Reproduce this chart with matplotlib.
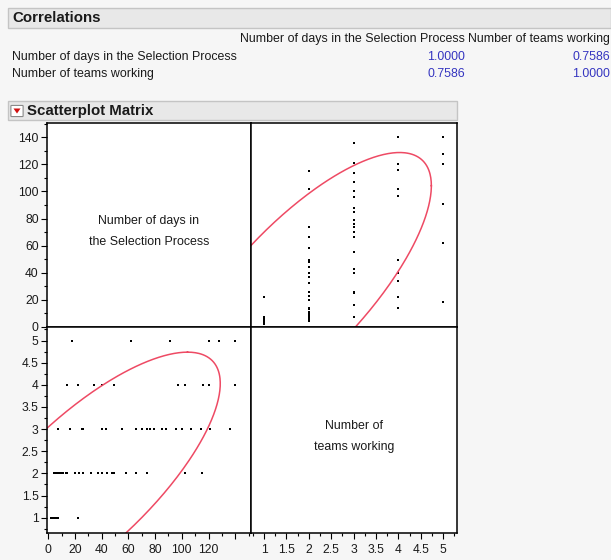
import numpy as np
import matplotlib
matplotlib.use("Agg")
import matplotlib.pyplot as plt
from matplotlib.patches import Rectangle, FancyBboxPatch, Polygon
from matplotlib.ticker import MultipleLocator

plt.rcParams['font.family'] = ['Liberation Sans', 'DejaVu Sans']

# data (teams, days)
teams1_days = [2, 3, 4, 5, 6, 7, 22]
teams2_days = [4, 5, 6, 7, 8, 9, 10, 11, 13, 14, 20, 23, 26, 32, 37, 40, 44, 48, 49, 58, 66, 74, 102, 115]
teams3_days = [7, 16, 25, 26, 40, 43, 55, 66, 70, 74, 76, 79, 85, 88, 96, 100, 107, 114, 121, 136]
teams4_days = [14, 22, 34, 40, 49, 97, 102, 116, 120, 140]
teams5_days = [18, 62, 91, 120, 128, 140]

var_names = ["Number of days in the Selection Process", "Number of teams working"]
corr_matrix = [[1.0, 0.7586], [0.7586, 1.0]]

# density ellipse summary (teams, days)
ell_mean = [1.80, 27.2]
ell_sd = [1.20, 41.5]
ell_level = 0.95

days = np.array(teams1_days + teams2_days + teams3_days + teams4_days + teams5_days, dtype=float)
teams = np.array([1] * len(teams1_days) + [2] * len(teams2_days) + [3] * len(teams3_days)
                 + [4] * len(teams4_days) + [5] * len(teams5_days), dtype=float)

W, H = 611, 560
fig = plt.figure(figsize=(W / 100, H / 100), dpi=100, facecolor='#f6f6f6')


def fx(x):
    return x / W


def fy(y):
    return 1 - y / H


def box(x0, y0, x1, y1):
    return [fx(x0), fy(y1), (x1 - x0) / W, (y1 - y0) / H]


txt = '#1a1a1a'
blue = '#3535c0'
fs = 8.9

# Correlations header
fig.patches.append(Rectangle((fx(8), fy(28)), (611 - 8) / W, 20 / H, transform=fig.transFigure,
                             facecolor='#e8e8e8', edgecolor='#c4c4c4', lw=1))
fig.text(fx(12), fy(18), "Correlations", fontsize=10.8, fontweight='bold', color=txt, va='center')

col_right = [465, 610]
fig.text(fx(col_right[0]), fy(39), var_names[0], fontsize=fs, color=txt, ha='right', va='center')
fig.text(fx(col_right[1]), fy(39), var_names[1], fontsize=fs, color=txt, ha='right', va='center')
for i, name in enumerate(var_names):
    yy = 57 + i * 17
    fig.text(fx(12), fy(yy), name, fontsize=fs, color=txt, va='center')
    for j in range(2):
        fig.text(fx(col_right[j]), fy(yy), "%.4f" % corr_matrix[i][j], fontsize=fs, color=blue,
                 ha='right', va='center')

# Scatterplot Matrix header
fig.patches.append(Rectangle((fx(8), fy(120)), (457 - 8) / W, 19 / H, transform=fig.transFigure,
                             facecolor='#e8e8e8', edgecolor='#c4c4c4', lw=1))
fig.patches.append(FancyBboxPatch((fx(11.5), fy(116)), 11 / W, 10 / H, transform=fig.transFigure,
                                  boxstyle='round,pad=0.001', facecolor='white', edgecolor='#8a8a8a', lw=0.8))
fig.patches.append(Polygon([(fx(13.5), fy(108.5)), (fx(20.5), fy(108.5)), (fx(17), fy(113.5))],
                           closed=True, transform=fig.transFigure, facecolor='#d01010', edgecolor='none'))
fig.text(fx(27), fy(110.5), "Scatterplot Matrix", fontsize=10.8, fontweight='bold', color=txt, va='center')

# panels
xl, xm, xr = 47, 251, 457
yt, ym, yb = 123, 327, 533
ax_tl = fig.add_axes(box(xl, yt, xm, ym))
ax_tr = fig.add_axes(box(xm, yt, xr, ym))
ax_bl = fig.add_axes(box(xl, ym, xm, yb))
ax_br = fig.add_axes(box(xm, ym, xr, yb))

days_lim_y = (-0.2, 150.6)
days_lim_x = (-0.97, 151.8)
teams_lim_x = (0.71, 5.31)
teams_lim_y = (0.655, 5.305)

for ax in (ax_tl, ax_tr, ax_bl, ax_br):
    ax.set_facecolor('white')
    for s in ax.spines.values():
        s.set_linewidth(1.1)
        s.set_color('black')
    ax.tick_params(which='both', direction='out', color='black', labelsize=8.7, labelcolor=txt,
                   width=0.8, pad=1.5)
    ax.tick_params(which='major', length=4.5)
    ax.tick_params(which='minor', length=2.5)
    ax.set_xticks([])
    ax.set_yticks([])

ax_tl.set_xlim(days_lim_x)
ax_tl.set_ylim(days_lim_y)
ax_tr.set_xlim(teams_lim_x)
ax_tr.set_ylim(days_lim_y)
ax_bl.set_xlim(days_lim_x)
ax_bl.set_ylim(teams_lim_y)
ax_br.set_xlim(teams_lim_x)
ax_br.set_ylim(teams_lim_y)

# axis ticks on the outer edges
ax_tl.set_yticks(np.arange(0, 141, 20))
ax_tl.yaxis.set_minor_locator(MultipleLocator(10))
ax_bl.set_yticks(np.arange(1, 5.01, 0.5))
ax_bl.set_yticklabels(['1', '1.5', '2', '2.5', '3', '3.5', '4', '4.5', '5'])
ax_bl.yaxis.set_minor_locator(MultipleLocator(0.25))
ax_bl.set_xticks(np.arange(0, 141, 20))
ax_bl.set_xticklabels(['0', '20', '40', '60', '80', '100', '120', ''])
ax_bl.xaxis.set_minor_locator(MultipleLocator(10))
ax_br.set_xticks(np.arange(1, 5.01, 0.5))
ax_br.set_xticklabels(['1', '1.5', '2', '2.5', '3', '3.5', '4', '4.5', '5'])
ax_br.xaxis.set_minor_locator(MultipleLocator(0.25))
for ax in (ax_bl, ax_br):
    ax.tick_params(axis='x', which='both', pad=3.5)

# diagonal labels
ax_tl.text(0.5, 0.47, "Number of days in\nthe Selection Process", transform=ax_tl.transAxes,
           ha='center', va='center', fontsize=fs, color=txt, linespacing=2.0)
ax_br.text(0.5, 0.47, "Number of\nteams working", transform=ax_br.transAxes,
           ha='center', va='center', fontsize=fs, color=txt, linespacing=2.0)

# points
ax_tr.plot(teams, days, 's', color='black', markersize=2.0, markeredgewidth=0)
ax_bl.plot(days, teams, 's', color='black', markersize=2.0, markeredgewidth=0)

# density ellipse
r = corr_matrix[0][1]
cov = np.array([[ell_sd[0] ** 2, r * ell_sd[0] * ell_sd[1]],
                [r * ell_sd[0] * ell_sd[1], ell_sd[1] ** 2]])
L = np.linalg.cholesky(cov)
c = np.sqrt(-2 * np.log(1 - ell_level))
t = np.linspace(0, 2 * np.pi, 400)
pts = np.array(ell_mean)[:, None] + c * L @ np.vstack([np.cos(t), np.sin(t)])
ax_tr.plot(pts[0], pts[1], color='#ee4a64', lw=1.1)
ax_bl.plot(pts[1], pts[0], color='#ee4a64', lw=1.1)

fig.savefig("out.png", dpi=100, facecolor=fig.get_facecolor())
